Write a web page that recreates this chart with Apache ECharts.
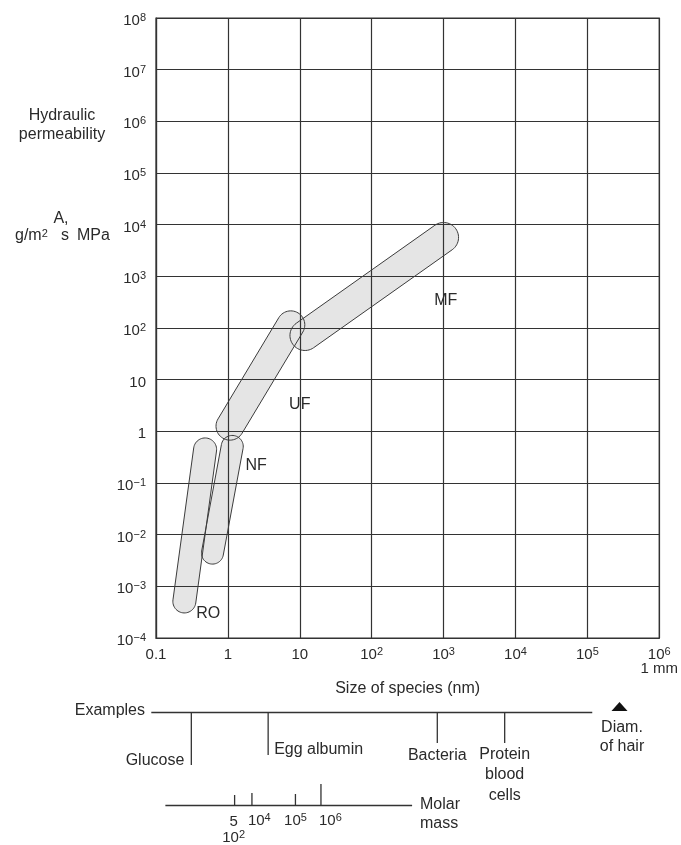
<!DOCTYPE html>
<html><head><meta charset="utf-8">
<script src="https://cdn.jsdelivr.net/npm/echarts@6/dist/echarts.min.js"></script>
<style>html,body{margin:0;padding:0;background:#fff}#c{width:681px;height:845px}</style>
</head><body><div id="c"></div>
<script>
// ---------------- data ----------------
const xTickLabels = ['0.1', '1', '10', '10^2', '10^3', '10^4', '10^5', '10^6\n1 mm'];
const yTickLabels = ['10^−4', '10^−3', '10^−2', '10^−1', '1', '10', '10^2', '10^3', '10^4', '10^5', '10^6', '10^7', '10^8'];
const xMinExp = -1, xMaxExp = 6, yMinExp = -4, yMaxExp = 8;

// membrane processes: centre-line ends [size nm, A]
const processNames = ['RO', 'NF', 'UF', 'MF'];
const processStart = [[0.248, 5.1e-4], [0.61, 4.4e-3], [1.07, 1.26], [11.8, 71.6]];
const processEnd = [[0.482, 0.446], [1.15, 0.51], [7.5, 115], [1000, 5650]];
const processLabelAt = [[0.533, 3.0e-4], [2.47, 0.218], [10.0, 3.36], [1072, 341]];

// examples scale (positions in nm)
const exampleNames = ['Glucose', 'Egg albumin', 'Bacteria', 'Protein\nblood\ncells'];
const exampleSizes = [0.31, 3.63, 818, 7080];
const examplesLine = [0.086, 1.17e5];
const hairName = 'Diam.\nof hair';
const hairSize = 2.8e5;

// molar mass scale (positions in nm)
const molarLabels = ['5\n10^2', '10^4', '10^5', '10^6'];
const molarSizes = [1.24, 2.16, 8.7, 19.7];
const molarLine = [0.135, 365];

// ---------------- styles ----------------
const FONT = '"Liberation Sans", Arial, Helvetica, sans-serif';
const TXT = '#2a2a2a';
const LINE = '#333';
const FS = 16;
const capsuleRadius = [11.5, 11, 14, 15];
const richStyles = {
  b: { fontSize: 15, fontFamily: FONT, color: TXT, lineHeight: 16, verticalAlign: 'bottom' },
  s: { fontSize: 11, fontFamily: FONT, color: TXT, lineHeight: 10, verticalAlign: 'top' },
  m: { fontSize: 15, fontFamily: FONT, color: TXT, lineHeight: 13 }
};
function toRich(str, secondStyle) {
  return str.split('\n').map((line, i) => {
    const st = (i > 0 && secondStyle) ? secondStyle : 'b';
    if (line.indexOf('^') >= 0) {
      const p = line.split('^');
      return '{' + st + '|' + p[0] + '}{s|' + p[1] + '}';
    }
    return '{' + st + '|' + line + '}';
  }).join('\n');
}

function capsulePts(p1, p2, r) {
  const ang = Math.atan2(p2[1] - p1[1], p2[0] - p1[0]);
  const pts = [], N = 28;
  for (let i = 0; i <= N; i++) {
    const a = ang - Math.PI / 2 + Math.PI * i / N;
    pts.push([p2[0] + r * Math.cos(a), p2[1] + r * Math.sin(a)]);
  }
  for (let i = 0; i <= N; i++) {
    const a = ang + Math.PI / 2 + Math.PI * i / N;
    pts.push([p1[0] + r * Math.cos(a), p1[1] + r * Math.sin(a)]);
  }
  return pts;
}
const capsuleData = processNames.map((n, i) => processStart[i].concat(processEnd[i]));
function capsuleRender(fill, stroke) {
  return function (params, api) {
    const p1 = api.coord([api.value(0), api.value(1)]);
    const p2 = api.coord([api.value(2), api.value(3)]);
    return {
      type: 'polygon',
      shape: { points: capsulePts(p1, p2, capsuleRadius[params.dataIndex]) },
      style: { fill: fill, stroke: stroke, lineWidth: 1 }
    };
  };
}

const chart = echarts.init(document.getElementById('c'), null, { renderer: 'canvas' });
const option = {
  animation: false,
  backgroundColor: '#fff',
  grid: { left: 156, top: 18, width: 506, height: 620, show: true, borderColor: LINE, borderWidth: 1.2, backgroundColor: 'transparent' },
  xAxis: {
    type: 'log', logBase: 10, min: Math.pow(10, xMinExp), max: Math.pow(10, xMaxExp), interval: 1, z: 3,
    axisLine: { show: true, lineStyle: { color: LINE, width: 1.2 } },
    axisTick: { show: false },
    splitLine: { show: true, lineStyle: { color: LINE, width: 1.2 } },
    minorTick: { show: false }, minorSplitLine: { show: false },
    axisLabel: {
      margin: 8, showMinLabel: true, showMaxLabel: true,
      formatter: function (v) {
        const e = Math.round(Math.log10(v));
        return toRich(xTickLabels[e - xMinExp] || '', 'm');
      },
      rich: richStyles
    },
    name: 'Size of species (nm)', nameLocation: 'middle', nameGap: 44,
    nameTextStyle: { fontSize: FS, fontFamily: FONT, color: TXT, verticalAlign: 'middle' }
  },
  yAxis: {
    type: 'log', logBase: 10, min: Math.pow(10, yMinExp), max: Math.pow(10, yMaxExp), interval: 1, z: 3,
    axisLine: { show: true, lineStyle: { color: LINE, width: 1.2 } },
    axisTick: { show: false },
    splitLine: { show: true, lineStyle: { color: LINE, width: 1.2 } },
    minorTick: { show: false }, minorSplitLine: { show: false },
    axisLabel: {
      margin: 10, padding: [5, 0, 0, 0], showMinLabel: true, showMaxLabel: true,
      formatter: function (v) {
        const e = Math.round(Math.log10(v));
        return toRich(yTickLabels[e - yMinExp] || '');
      },
      rich: richStyles
    }
  },
  series: [
    { type: 'custom', name: 'fill', z: 2, data: capsuleData, encode: { x: [0, 2], y: [1, 3] },
      renderItem: capsuleRender('#e5e5e5', null), silent: true },
    { type: 'custom', name: 'outline', z: 4, data: capsuleData, encode: { x: [0, 2], y: [1, 3] },
      renderItem: capsuleRender(null, '#3c3c3c'), silent: true },
    { type: 'custom', name: 'labels', z: 5, data: processLabelAt.map((p, i) => ({ value: p, name: processNames[i] })),
      encode: { x: 0, y: 1 }, silent: true,
      renderItem: function (params, api) {
        const p = api.coord([api.value(0), api.value(1)]);
        return { type: 'text', x: p[0], y: p[1],
          style: { text: processNames[params.dataIndex], fill: TXT, fontSize: FS, fontFamily: FONT, align: 'center', verticalAlign: 'middle' } };
      } }
  ]
};
chart.setOption(option);

// ---------- lower scales (examples / molar mass), positioned through the x axis ----------
const px = v => chart.convertToPixel({ xAxisIndex: 0 }, v);
const G = [];
function txt(x, y, text, align, lh, rich) {
  const st = { text: text, fill: TXT, fontSize: FS, fontFamily: FONT, align: align, verticalAlign: 'middle' };
  if (lh) st.lineHeight = lh;
  if (rich) st.rich = richStyles;
  G.push({ type: 'text', x: x, y: y, z: 10, style: st });
}
function ln(x1, y1, x2, y2) {
  G.push({ type: 'line', z: 10, shape: { x1: x1, y1: y1, x2: x2, y2: y2 }, style: { stroke: LINE, lineWidth: 1.3 } });
}
// y axis title
txt(62, 125, 'Hydraulic\npermeability', 'center', 18.5);
txt(61, 219, 'A,', 'center');
txt(15, 236, '{g|g/m}{s|2}', 'left', null, true);
G[G.length - 1].style.rich = Object.assign({}, richStyles, { g: { fontSize: FS, fontFamily: FONT, color: TXT, lineHeight: 16, verticalAlign: 'bottom' } });
txt(65, 236, 's', 'center');
txt(77, 236, 'MPa', 'left');

// examples
const exY = 712.5;
txt(145, 711, 'Examples', 'right');
ln(px(examplesLine[0]), exY, px(examplesLine[1]), exY);
const exTickBottom = [765, 755, 743, 743];
const exLabel = [
  { dx: -7, y: 761, align: 'right' },
  { dx: 6, y: 750, align: 'left' },
  { dx: 0, y: 756, align: 'center' },
  { dx: 0, y: 775, align: 'center', lh: 20.5 }
];
exampleSizes.forEach((s, i) => {
  const x = px(s);
  ln(x, exY, x, exTickBottom[i]);
  txt(x + exLabel[i].dx, exLabel[i].y, exampleNames[i], exLabel[i].align, exLabel[i].lh);
});
const hx = px(hairSize);
G.push({ type: 'polygon', z: 10, shape: { points: [[hx - 8, 711], [hx + 8, 711], [hx, 702]] }, style: { fill: '#111' } });
txt(hx + 2.5, 737.5, hairName, 'center', 19);

// molar mass
const mY = 805.5;
ln(px(molarLine[0]), mY, px(molarLine[1]), mY);
const mTickTop = [795, 793, 794, 784];
const mLabel = [
  { dx: -1, align: 'center' }, { dx: -4, align: 'left' }, { dx: 0, align: 'center' }, { dx: -2, align: 'left' }
];
molarSizes.forEach((s, i) => {
  const x = px(s);
  ln(x, mTickTop[i], x, mY);
  const y = molarLabels[i].indexOf('\n') >= 0 ? 829 : 820;
  txt(x + mLabel[i].dx, y, toRich(molarLabels[i]), mLabel[i].align, null, true);
});
txt(420, 814.5, 'Molar\nmass', 'left', 19);

chart.setOption({ graphic: { elements: G } });
</script>
</body></html>
